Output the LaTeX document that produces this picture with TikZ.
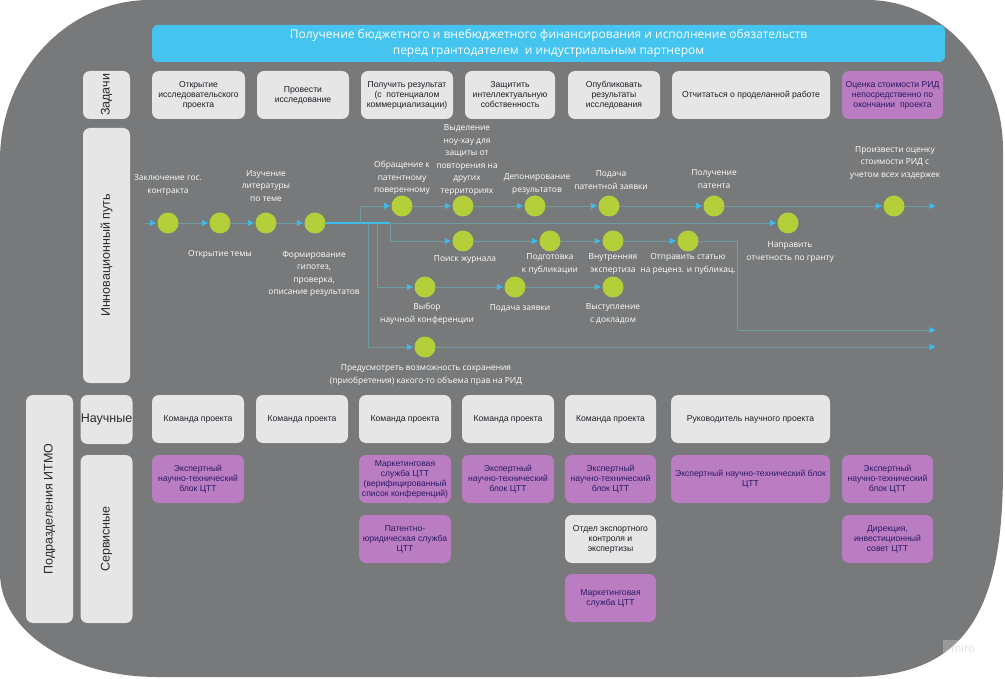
\documentclass[tikz,border=0pt]{standalone}
\usepackage{fontspec}
\setmainfont{Liberation Sans}
\newfontfamily\osans{Open Sans}
\usetikzlibrary{arrows.meta}
\definecolor{bgc}{HTML}{77797B}
\definecolor{boxc}{HTML}{E6E6E6}
\definecolor{purc}{HTML}{BA7DC1}
\definecolor{purt}{HTML}{2B1A66}
\definecolor{bannerc}{HTML}{45C4EF}
\definecolor{dotc}{HTML}{B5CF3A}
\definecolor{linec}{HTML}{6E9DA1}
\definecolor{arrc}{HTML}{3CBDEB}
\definecolor{txtc}{HTML}{1E1E28}
\definecolor{sidet}{HTML}{2A2A2A}
\begin{document}
\begin{tikzpicture}[x=1pt,y=-1pt,
 gbox/.style={fill=boxc, rounded corners=7pt, align=center, text=txtc, font=\fontsize{8.6}{10}\selectfont, inner sep=1pt},
 pbox/.style={gbox, fill=purc, text=purt},
 side/.style={fill=boxc, rounded corners=7pt, text=sidet, font=\fontsize{12.5}{14}\selectfont, inner sep=0pt},
 dot/.style={circle, fill=dotc, minimum size=21pt, inner sep=0pt},
 lbl/.style={text=white, align=center, font=\osans\fontsize{8.4}{12.5}\selectfont, inner sep=0pt},
 flow/.style={draw=linec, line width=0.9pt, -{Triangle[length=6pt,width=6pt,color=arrc]}, shorten >=1.5pt},
 wire/.style={draw=linec, line width=0.9pt}]
\useasboundingbox (0,0) rectangle (1005,679);
% background shape
\fill[bgc] (150,0) -- (867,0) .. controls (942,0) and (1003,67) .. (1003,150) -- (1003,470)
  .. controls (1003,620) and (960,677) .. (850,677) -- (157,677)
  .. controls (70,677) and (0,631) .. (0,573) -- (0,160)
  .. controls (0,72) and (67,0) .. (150,0) -- cycle;
% banner
\node[fill=bannerc, rounded corners=6pt, minimum width=793pt, minimum height=37pt, inner sep=0pt, align=center, text=white, font=\osans\fontsize{12}{16}\selectfont] (banner) at (548.5,43.5)
 {Получение бюджетного и внебюджетного финансирования и исполнение обязательств\\перед грантодателем\ \ и индустриальным партнером};
% side labels
\node[side, rotate=90, minimum width=48pt, minimum height=47pt] (zad) at (106.5,95) {Задачи};
\node[side, rotate=90, minimum width=255pt, minimum height=47pt] (inn) at (106.5,255.5) {Инновационный путь};
\node[side, rotate=90, minimum width=228pt, minimum height=47pt] (itmo) at (49.5,509) {Подразделения ИТМО};
\node[side, minimum width=52pt, minimum height=49pt] (nauch) at (106.5,419.5) {Научные};
\node[side, rotate=90, minimum width=168pt, minimum height=52pt] (serv) at (106.5,539) {Сервисные};
% task row
\node[gbox, minimum width=93pt, minimum height=48pt] (ta1) at (198.5,95) {Открытие\\исследовательского\\проекта};
\node[gbox, minimum width=92pt, minimum height=48pt] (ta2) at (303,95) {Провести\\исследование};
\node[gbox, minimum width=92pt, minimum height=48pt] (ta3) at (407,95) {Получить результат\\(с\ \ потенциалом\\коммерциализации)};
\node[gbox, minimum width=90pt, minimum height=48pt] (ta4) at (510,95) {Защитить\\интеллектуальную\\собственность};
\node[gbox, minimum width=92pt, minimum height=48pt] (ta5) at (614,95) {Опубликовать\\результаты\\исследования};
\node[gbox, minimum width=158pt, minimum height=48pt] (ta6) at (751,95) {Отчитаться о проделанной работе};
\node[pbox, minimum width=101pt, minimum height=48pt] (ta7) at (892.5,95) {Оценка стоимости РИД\\непосредственно по\\окончании\ \ проекта};
% scientific row
\node[gbox, minimum width=92pt, minimum height=48pt] (n1) at (198,419) {Команда проекта};
\node[gbox, minimum width=92pt, minimum height=48pt] (n2) at (302,419) {Команда проекта};
\node[gbox, minimum width=92pt, minimum height=48pt] (n3) at (405,419) {Команда проекта};
\node[gbox, minimum width=92pt, minimum height=48pt] (n4) at (508,419) {Команда проекта};
\node[gbox, minimum width=91pt, minimum height=48pt] (n5) at (610.5,419) {Команда проекта};
\node[gbox, minimum width=159pt, minimum height=48pt] (n6) at (750.5,419) {Руководитель научного проекта};
% service rows
\node[pbox, minimum width=92pt, minimum height=48pt] (s1) at (198,479) {Экспертный\\научно-технический\\блок ЦТТ};
\node[pbox, minimum width=92pt, minimum height=48pt] (s3) at (405,479) {Маркетинговая\\служба ЦТТ\\(верифицированный\\список конференций)};
\node[pbox, minimum width=92pt, minimum height=48pt] (s3b) at (405,539) {Патентно-\\юридическая служба\\ЦТТ};
\node[pbox, minimum width=92pt, minimum height=48pt] (s4) at (508,479) {Экспертный\\научно-технический\\блок ЦТТ};
\node[pbox, minimum width=91pt, minimum height=48pt] (s5) at (610.5,479) {Экспертный\\научно-технический\\блок ЦТТ};
\node[gbox, minimum width=91pt, minimum height=48pt] (s5b) at (610.5,539) {Отдел экспортного\\контроля и\\экспертизы};
\node[pbox, minimum width=91pt, minimum height=48pt] (s5c) at (610.5,598) {Маркетинговая\\служба ЦТТ};
\node[pbox, minimum width=159pt, minimum height=48pt] (s6) at (750.5,479) {Экспертный научно-технический блок\\ЦТТ};
\node[pbox, minimum width=91pt, minimum height=48pt] (s7) at (887.5,479) {Экспертный\\научно-технический\\блок ЦТТ};
\node[pbox, minimum width=91pt, minimum height=48pt] (s7b) at (887.5,539) {Дирекция,\\инвестиционный\\совет ЦТТ};
% dots
\node[dot] (c1) at (168,223) {};
\node[dot] (c2) at (220,223) {};
\node[dot] (c3) at (266,223) {};
\node[dot] (c4) at (315,223) {};
\node[dot] (t1) at (402,206) {};
\node[dot] (t2) at (463,206) {};
\node[dot] (t3) at (535,206) {};
\node[dot] (t4) at (609,206) {};
\node[dot] (t5) at (714,206) {};
\node[dot] (t6) at (894,206) {};
\node[dot] (r1) at (788,223) {};
\node[dot] (j1) at (463,241) {};
\node[dot] (j2) at (550,241) {};
\node[dot] (j3) at (613,241) {};
\node[dot] (j4) at (688,241) {};
\node[dot] (k1) at (425,287) {};
\node[dot] (k2) at (515,287) {};
\node[dot] (k3) at (613,287) {};
\node[dot] (p1) at (425,347) {};
% coordinates
\coordinate (st) at (145,223);
\coordinate (bA) at (360,223);
\coordinate (bD) at (368,223);
\coordinate (bC) at (377,223);
\coordinate (bB) at (390,223);
\coordinate (jB) at (737,241);
\coordinate (eA) at (937,206);
\coordinate (eB) at (937,330);
\coordinate (eD) at (937,347);
% connectors
\draw[flow] (st) -- (c1);
\draw[flow] (c1) -- (c2);
\draw[flow] (c2) -- (c3);
\draw[flow] (c3) -- (c4);
\draw[flow] (c4) -- (r1);
\draw[draw=arrc, line width=1.3pt] (c4.east) -- (bB);
\draw[flow] (bA) |- (t1);
\draw[flow] (t1) -- (t2);
\draw[flow] (t2) -- (t3);
\draw[flow] (t3) -- (t4);
\draw[flow] (t4) -- (t5);
\draw[flow] (t5) -- (t6);
\draw[flow] (t6) -- (eA);
\draw[flow] (bB) |- (j1);
\draw[flow] (j1) -- (j2);
\draw[flow] (j2) -- (j3);
\draw[flow] (j3) -- (j4);
\draw[flow] (j4) -- (jB) |- (eB);
\draw[flow] (bC) |- (k1);
\draw[flow] (k1) -- (k2);
\draw[flow] (k2) -- (k3);
\draw[flow] (bD) |- (p1);
\draw[flow] (p1) -- (eD);
% labels
\node[lbl] (l1) at (168,185) {Заключение гос.\\контракта};
\node[lbl] (l2) at (220,254) {Открытие темы};
\node[lbl] (l3) at (266,186) {Изучение\\литературы\\по теме};
\node[lbl] (l4) at (314,274) {Формирование\\гипотез,\\проверка,\\описание результатов};
\node[lbl] (l5) at (402,178) {Обращение к\\патентному\\поверенному};
\node[lbl] (l6) at (467,160) {Выделение\\ноу-хау для\\защиты от\\повторения на\\других\\территориях};
\node[lbl] (l7) at (537,184) {Депонирование\\результатов};
\node[lbl] (l8) at (611,180) {Подача\\патентной заявки};
\node[lbl] (l9) at (714,179) {Получение\\патента};
\node[lbl] (l10) at (895,163) {Произвести оценку\\стоимости РИД с\\учетом всех издержек};
\node[lbl] (l11) at (465,260) {Поиск журнала};
\node[lbl] (l12) at (550,264) {Подготовка\\к публикации};
\node[lbl] (l13) at (613,264) {Внутренняя\\экспертиза};
\node[lbl] (l14) at (688,264) {Отправить статью\\на реценз. и публикац.};
\node[lbl] (l15) at (790,252) {Направить\\отчетность по гранту};
\node[lbl] (l16) at (427,314) {Выбор\\научной конференции};
\node[lbl] (l17) at (520,308) {Подача заявки};
\node[lbl] (l18) at (613,314) {Выступление\\с докладом};
\node[lbl] (l19) at (426,375) {Предусмотреть возможность сохранения\\(приобретения) какого-то объема прав на РИД};
% watermark
\node[fill=white, fill opacity=0.25, text opacity=1, text=white!75!gray, font=\osans\fontsize{11}{12}\selectfont, inner sep=1pt, minimum width=40pt, minimum height=18pt] (miro) at (963,649) {miro};
\end{tikzpicture}
\end{document}
